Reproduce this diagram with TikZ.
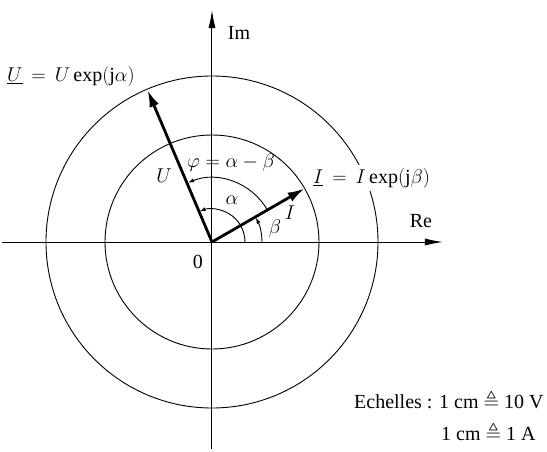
\RequirePackage{fix-cm}
\documentclass[tikz,border=0pt]{standalone}
\usepackage{amsmath,amssymb}
\usepackage{fontspec}
\setmainfont{Liberation Serif}
\usetikzlibrary{arrows.meta}
\begin{document}
\begin{tikzpicture}[x=1pt,y=1pt,
  thin line/.style={line width=0.9pt},
  axis/.style={line width=1pt,-{Latex[length=18pt,width=7pt]}},
  vec/.style={line width=2.8pt,-{Latex[length=17pt,width=10pt]}},
  anglearc/.style={line width=0.9pt,-{Latex[length=6pt,width=4pt]}},
  lab/.style={font=\fontsize{20}{23}\selectfont, inner sep=1pt}]
\useasboundingbox (-212,-209) rectangle (335,242);
\coordinate (O) at (0,0);
\coordinate (reL) at (-210,0);
\coordinate (reR) at (231,0);
\coordinate (imB) at (0,-207);
\coordinate (imT) at (0,232);
\draw[thin line] (O) circle[radius=107];
\draw[thin line] (O) circle[radius=166];
\draw[axis] (reL) -- (reR);
\draw[axis] (imB) -- (imT);
\coordinate (Utip) at (113:165);
\coordinate (Itip) at (30:107);
\draw[vec] (O) -- (Utip);
\draw[vec] (O) -- (Itip);
\draw[anglearc] (33,0) arc[start angle=0,end angle=112,radius=33];
\draw[anglearc] (50,0) arc[start angle=0,end angle=29,radius=50];
\draw[anglearc] (30:64) arc[start angle=30,end angle=112,radius=64];
\node[lab,anchor=west] (Ulab) at (-206,166) {$\underline{U}\,=\,U\,\mathrm{exp}(\mathrm{j}\alpha)$};
\node[lab,anchor=west,fill=white,inner sep=3pt] (Ilab) at (98,64) {$\underline{I}\,=\,I\,\mathrm{exp}(\mathrm{j}\beta)$};
\node[lab] (re) at (209,21) {Re};
\node[lab] (im) at (27,209) {Im};
\node[lab] (zero) at (-14,-20) {0};
\node[lab,anchor=east] (U) at (-39,66) {$U$};
\node[lab] (I) at (78,29) {$I$};
\node[lab] (al) at (20,42) {$\alpha$};
\node[lab] (be) at (63,14) {$\beta$};
\node[lab,anchor=west] (phi) at (-26,80) {$\varphi=\alpha-\beta$};
\node[lab,anchor=west] (sc1) at (141,-158) {Echelles : 1 cm $\triangleq$ 10 V};
\node[lab,anchor=west] (sc2) at (228,-190) {1 cm $\triangleq$ 1 A};
\end{tikzpicture}
\end{document}
